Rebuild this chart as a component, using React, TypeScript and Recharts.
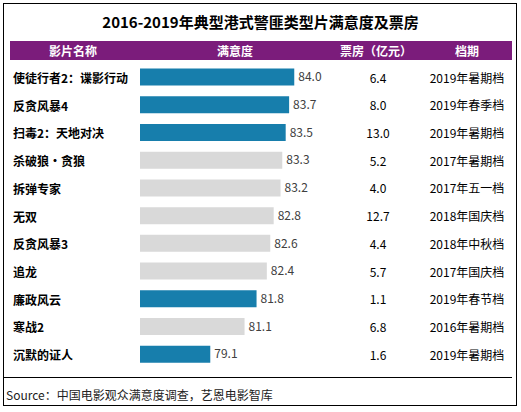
import React from "react";
import { Bar, BarChart, Cell, LabelList, XAxis, YAxis } from "recharts";

const films = [
  "使徒行者2：谍影行动",
  "反贪风暴4",
  "扫毒2：天地对决",
  "杀破狼·贪狼",
  "拆弹专家",
  "无双",
  "反贪风暴3",
  "追龙",
  "廉政风云",
  "寒战2",
  "沉默的证人",
];
const satisfaction = [84.0, 83.7, 83.5, 83.3, 83.2, 82.8, 82.6, 82.4, 81.8, 81.1, 79.1];
const boxOffice = ["6.4", "8.0", "13.0", "5.2", "4.0", "12.7", "4.4", "5.7", "1.1", "6.8", "1.6"];
const periods = [
  "2019年暑期档",
  "2019年春季档",
  "2019年暑期档",
  "2017年暑期档",
  "2017年五一档",
  "2018年国庆档",
  "2018年中秋档",
  "2017年国庆档",
  "2019年春节档",
  "2016年暑期档",
  "2019年暑期档",
];
const released2019 = [true, true, true, false, false, false, false, false, true, false, true];
const headers = ["影片名称", "满意度", "票房（亿元）", "档期"];

const data = films.map((name, i) => ({
  name,
  score: satisfaction[i],
  box: boxOffice[i],
  period: periods[i],
}));

const FONT = '"Microsoft YaHei", "Noto Sans CJK SC", "Noto Sans", sans-serif';
const BLUE = "#177EAC";
const GRAY = "#D9D9D9";
const PURPLE = "#7B1C7B";

const NameTick = (props: any) => {
  const { y, payload } = props;
  return (
    <text x={13} y={y} dominantBaseline="central" fontSize={12} fontWeight="bold" fill="#000" fontFamily={FONT}>
      {payload.value}
    </text>
  );
};

const columnLabel = (cx: number) => (props: any) => {
  const { y, height, value } = props;
  return (
    <text x={cx} y={y + height / 2} textAnchor="middle" dominantBaseline="central" fontSize={12} fill="#000" fontFamily={FONT}>
      {value}
    </text>
  );
};

export default function App() {
  const headerCenters = [73, 235, 376, 467];
  return (
    <div style={{ position: "absolute", left: 0, top: 0, width: 521, height: 412, background: "#fff", fontFamily: FONT }}>
      <div style={{ position: "absolute", left: 3, top: 3, width: 512, height: 401, border: "1px solid #000" }} />
      <div style={{ position: "absolute", left: 0, top: 11, width: 521, textAlign: "center", fontSize: 15, fontWeight: "bold", color: "#000" }}>
        2016-2019年典型港式警匪类型片满意度及票房
      </div>
      <div style={{ position: "absolute", left: 10, top: 41, width: 502, height: 19, background: PURPLE }} />
      {headers.map((h, i) => (
        <div
          key={h}
          style={{
            position: "absolute",
            left: headerCenters[i] - 60,
            width: 120,
            top: 41,
            height: 19,
            lineHeight: "19px",
            textAlign: "center",
            color: "#fff",
            fontWeight: "bold",
            fontSize: 12,
          }}
        >
          {h}
        </div>
      ))}
      <div style={{ position: "absolute", left: 4, top: 377, width: 508, height: 1, background: "#000" }} />
      <div style={{ position: "absolute", left: 6, top: 386, fontSize: 12, color: "#222", whiteSpace: "nowrap" }}>
        Source：中国电影观众满意度调查，艺恩电影智库
      </div>
      <div style={{ position: "absolute", left: 0, top: 0 }}>
        <BarChart
          width={521}
          height={412}
          data={data}
          layout="vertical"
          margin={{ top: 63.6, bottom: 43.6, left: 0, right: 209.6 }}
          barCategoryGap={0}
        >
          <XAxis type="number" domain={[75, 85]} hide />
          <YAxis type="category" dataKey="name" width={140} axisLine={false} tickLine={false} tick={<NameTick />} interval={0} />
          <Bar dataKey="score" barSize={17} isAnimationActive={false}>
            {data.map((d, i) => (
              <Cell key={d.name} fill={released2019[i] ? BLUE : GRAY} />
            ))}
            <LabelList
              dataKey="score"
              position="right"
              offset={4}
              formatter={(v: any) => Number(v).toFixed(1)}
              style={{ fontSize: 12, fill: "#404040", fontFamily: FONT }}
            />
            <LabelList dataKey="box" content={columnLabel(378)} />
            <LabelList dataKey="period" content={columnLabel(467)} />
          </Bar>
        </BarChart>
      </div>
    </div>
  );
}
